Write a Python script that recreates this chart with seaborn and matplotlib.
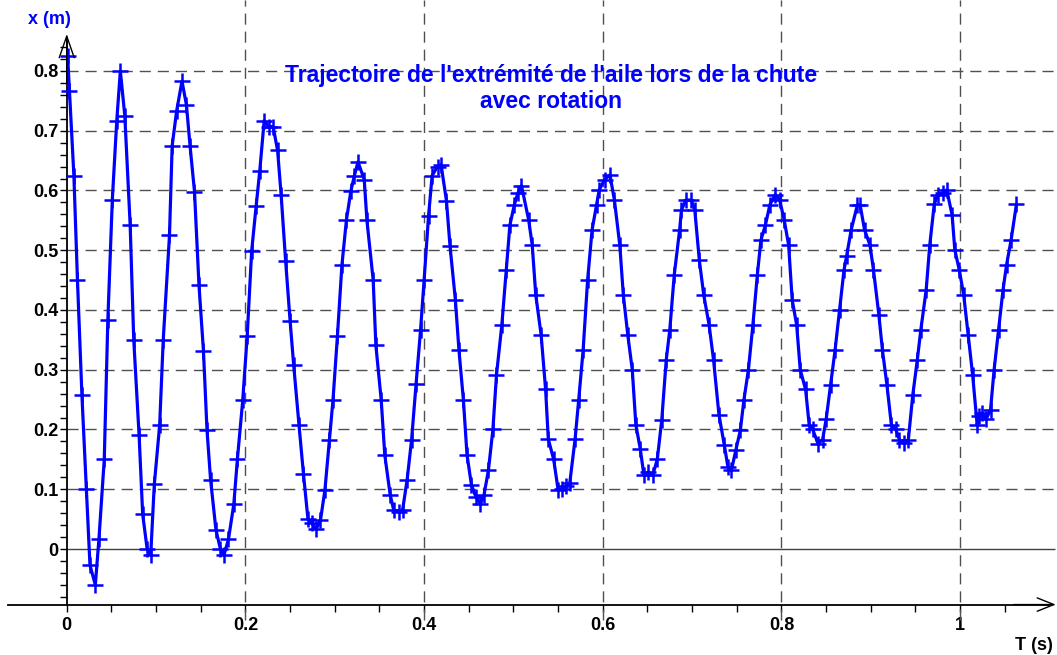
import numpy as np
import pandas as pd
import matplotlib
matplotlib.use("Agg")
import matplotlib.pyplot as plt
from matplotlib.ticker import FixedLocator
import seaborn as sns

# Measured wing-tip position x (m) against time T (s)
t_s = [
    0.001, 0.003, 0.008, 0.012, 0.017, 0.022, 0.026, 0.032, 0.036, 0.042,
    0.046, 0.051, 0.056, 0.060, 0.065, 0.071, 0.075, 0.081, 0.085, 0.090,
    0.094, 0.098, 0.104, 0.108, 0.115, 0.118, 0.123, 0.129, 0.134, 0.138,
    0.143, 0.148, 0.153, 0.157, 0.161, 0.167, 0.172, 0.176, 0.181, 0.187,
    0.191, 0.197, 0.202,
    0.207, 0.212, 0.216, 0.221, 0.226, 0.231, 0.236, 0.240, 0.245, 0.250,
    0.254, 0.260, 0.265, 0.270, 0.274, 0.279, 0.284, 0.289, 0.294, 0.298,
    0.303, 0.308, 0.313, 0.318, 0.322, 0.326, 0.333, 0.336, 0.343, 0.346,
    0.352, 0.356, 0.362, 0.366, 0.372, 0.376, 0.381, 0.386, 0.391, 0.396,
    0.400, 0.405, 0.409, 0.415, 0.419, 0.425, 0.429, 0.435, 0.439, 0.444,
    0.448, 0.453, 0.458, 0.463,
    0.467, 0.472, 0.477, 0.481, 0.487, 0.492, 0.496, 0.501, 0.505, 0.509,
    0.517, 0.521, 0.525, 0.531, 0.536, 0.539, 0.545, 0.550, 0.554, 0.559,
    0.563, 0.569, 0.573, 0.578, 0.583, 0.588, 0.593, 0.596, 0.602, 0.608,
    0.613, 0.619, 0.623, 0.628, 0.633, 0.637, 0.642, 0.646, 0.651, 0.656,
    0.661, 0.666, 0.671, 0.675, 0.680, 0.686, 0.688, 0.693, 0.699, 0.703,
    0.708, 0.713, 0.719, 0.724, 0.730, 0.736, 0.740, 0.744, 0.749,
    0.754, 0.758, 0.763, 0.768, 0.773, 0.777, 0.782, 0.787, 0.793, 0.798,
    0.803, 0.808, 0.812, 0.817, 0.821, 0.827, 0.831, 0.835, 0.841, 0.846,
    0.850, 0.855, 0.860, 0.865, 0.870, 0.873, 0.878, 0.885, 0.888, 0.893,
    0.899, 0.903, 0.909, 0.913, 0.918, 0.923, 0.928, 0.932, 0.937, 0.942,
    0.947, 0.952, 0.956, 0.962, 0.966, 0.971, 0.975, 0.981, 0.985, 0.991,
    0.994, 0.999, 1.004, 1.009, 1.014, 1.019, 1.021, 1.025, 1.029, 1.034,
    1.038, 1.043, 1.048, 1.052, 1.057, 1.063,
]
x_m = [
    0.825, 0.767, 0.625, 0.450, 0.257, 0.100, -0.027, -0.060, 0.016, 0.150,
    0.383, 0.584, 0.717, 0.800, 0.725, 0.542, 0.350, 0.190, 0.058, 0.000,
    -0.010, 0.108, 0.207, 0.350, 0.525, 0.675, 0.733, 0.783, 0.743, 0.675,
    0.598, 0.442, 0.332, 0.199, 0.116, 0.032, 0.000, -0.010, 0.016, 0.075,
    0.150, 0.249, 0.357,
    0.499, 0.574, 0.632, 0.717, 0.707, 0.707, 0.667, 0.592, 0.482, 0.382,
    0.308, 0.207, 0.125, 0.050, 0.044, 0.033, 0.048, 0.099, 0.183, 0.249,
    0.357, 0.475, 0.550, 0.599, 0.625, 0.648, 0.618, 0.550, 0.450, 0.341,
    0.249, 0.157, 0.091, 0.065, 0.062, 0.066, 0.116, 0.183, 0.276, 0.366,
    0.450, 0.558, 0.625, 0.640, 0.643, 0.583, 0.507, 0.417, 0.333, 0.249,
    0.158, 0.107, 0.087, 0.075,
    0.090, 0.132, 0.200, 0.291, 0.375, 0.467, 0.542, 0.576, 0.596, 0.608,
    0.551, 0.509, 0.425, 0.358, 0.267, 0.184, 0.150, 0.099, 0.101, 0.105,
    0.110, 0.184, 0.249, 0.333, 0.450, 0.534, 0.576, 0.601, 0.618, 0.626,
    0.584, 0.509, 0.425, 0.358, 0.300, 0.208, 0.167, 0.124, 0.129, 0.124,
    0.150, 0.216, 0.316, 0.367, 0.459, 0.534, 0.567, 0.584, 0.584, 0.567,
    0.484, 0.425, 0.375, 0.316, 0.225, 0.174, 0.138, 0.132, 0.166,
    0.199, 0.250, 0.300, 0.375, 0.459, 0.517, 0.542, 0.576, 0.593, 0.584,
    0.551, 0.509, 0.417, 0.375, 0.300, 0.267, 0.208, 0.200, 0.176, 0.183,
    0.217, 0.275, 0.333, 0.400, 0.467, 0.491, 0.534, 0.576, 0.576, 0.534,
    0.509, 0.467, 0.392, 0.333, 0.275, 0.208, 0.200, 0.183, 0.177, 0.183,
    0.258, 0.316, 0.367, 0.434, 0.509, 0.577, 0.593, 0.596, 0.601, 0.559,
    0.501, 0.467, 0.425, 0.358, 0.291, 0.208, 0.223, 0.227, 0.217, 0.233,
    0.300, 0.367, 0.434, 0.476, 0.517, 0.577,
]

x_ticks = [0, 0.2, 0.4, 0.6, 0.8, 1.0]
x_tick_labels = ["0", "0.2", "0.4", "0.6", "0.8", "1"]
y_ticks = [0, 0.1, 0.2, 0.3, 0.4, 0.5, 0.6, 0.7, 0.8]
y_tick_labels = ["0", "0.1", "0.2", "0.3", "0.4", "0.5", "0.6", "0.7", "0.8"]

title_text = "Trajectoire de l'extrémité de l'aile lors de la chute\navec rotation"
BLUE = "#0000ff"

sns.set_theme(style="white")
plt.rcParams["font.family"] = ["Liberation Sans", "DejaVu Sans"]
plt.rcParams["font.weight"] = "bold"

fig = plt.figure(figsize=(10.57, 6.55), dpi=100)
ax = fig.add_axes([0, 0, 1, 1])
ax.set_facecolor("white")
ax.set_xlim(-0.0747, 1.1084)
ax.set_ylim(-0.1774, 0.9188)

# dashed grid
grid_kw = dict(color="#505050", linewidth=1.0, linestyles=(0, (8, 5)), zorder=1)
ax.hlines(y_ticks[1:], 0, 1.106, **grid_kw)
ax.hlines([0], 0, 1.106, color="#404040", linewidth=1.0, zorder=1)
ax.vlines(x_ticks[1:], -0.119, 0.9188, **grid_kw)

df = pd.DataFrame({"T": t_s, "x": x_m})
sns.lineplot(data=df, x="T", y="x", color=BLUE, linewidth=2.3, marker="+",
             markersize=11, markeredgewidth=1.8, markeredgecolor=BLUE,
             estimator=None, sort=False, ax=ax, zorder=3)

# axes crossing at the origin of the time scale
for side in ("top", "right"):
    ax.spines[side].set_visible(False)
ax.spines["left"].set_position(("data", 0))
ax.spines["left"].set_bounds(-0.093, 0.855)
ax.spines["bottom"].set_position(("data", -0.093))
ax.spines["bottom"].set_bounds(-0.066, 1.100)
for side in ("left", "bottom"):
    ax.spines[side].set_color("black")
    ax.spines[side].set_linewidth(1.3)

y_arrow = dict(arrowstyle="->,head_length=1.3,head_width=0.45", color="black", lw=1.0,
               shrinkA=0, shrinkB=0)
x_arrow = dict(arrowstyle="->,head_length=1.0,head_width=0.4", color="black", lw=1.0,
               shrinkA=0, shrinkB=0)
ax.annotate("", xy=(0, 0.862), xytext=(0, 0.78), arrowprops=y_arrow)
ax.annotate("", xy=(1.107, -0.093), xytext=(1.06, -0.093), arrowprops=x_arrow)

ax.set_xticks(x_ticks, x_tick_labels)
ax.set_yticks(y_ticks, y_tick_labels)
ax.xaxis.set_minor_locator(FixedLocator([0.05, 0.1, 0.15, 0.25, 0.3, 0.35, 0.45, 0.5,
                                         0.55, 0.65, 0.7, 0.75, 0.85, 0.9, 0.95, 1.05]))
ax.yaxis.set_minor_locator(FixedLocator(np.round(np.arange(-0.08, 0.85, 0.02), 2)))
ax.tick_params(axis="x", which="both", direction="out", length=5, width=1.0,
               color="black", bottom=True, pad=4, labelsize=13, labelcolor="black")
ax.tick_params(axis="y", which="both", direction="out", length=5, width=1.0,
               color="black", left=True, pad=1, labelsize=13, labelcolor="black")
for lab in ax.get_xticklabels() + ax.get_yticklabels():
    lab.set_fontweight("bold")

ax.set_ylabel("x (m)", rotation=0, color=BLUE, fontsize=13, fontweight="bold",
              ha="center", va="center")
ax.yaxis.set_label_coords(49 / 1057, 1 - 19 / 655)
ax.set_xlabel("T (s)", color="black", fontsize=13, fontweight="bold",
              ha="center", va="center")
ax.xaxis.set_label_coords(1034 / 1057, 1 - 645 / 655)

# two-line title; anchored on the baseline of its second line
fig.text(551 / 1057, 1 - 108 / 655, title_text, color=BLUE, fontsize=16.5,
         fontweight="bold", ha="center", va="baseline", multialignment="center",
         linespacing=1.15)

fig.savefig("out.png", dpi=100, facecolor="white")
